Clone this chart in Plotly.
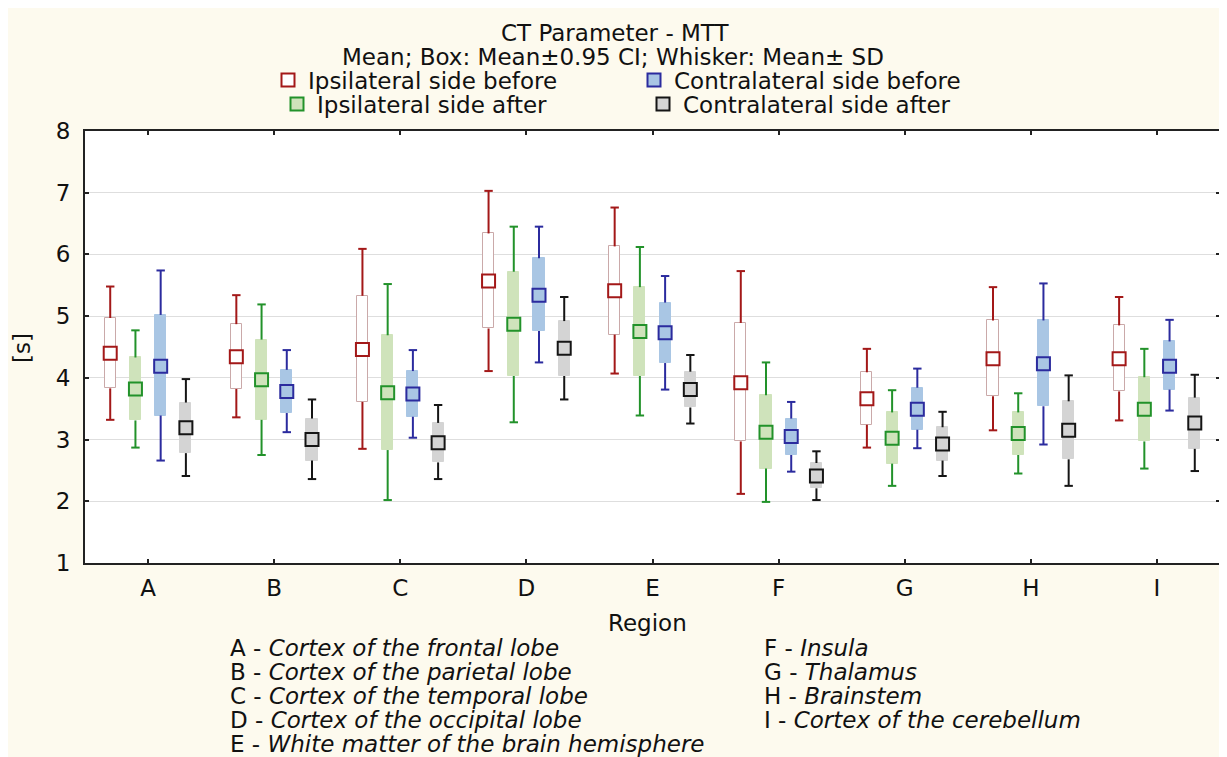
import plotly.graph_objects as go

# ---------------- data ----------------
regions = ["A", "B", "C", "D", "E", "F", "G", "H", "I"]
region_names = [
    "Cortex of the frontal lobe",
    "Cortex of the parietal lobe",
    "Cortex of the temporal lobe",
    "Cortex of the occipital lobe",
    "White matter of the brain hemisphere",
    "Insula",
    "Thalamus",
    "Brainstem",
    "Cortex of the cerebellum",
]
series_names = ["Ipsilateral side before", "Ipsilateral side after",
                "Contralateral side before", "Contralateral side after"]

# Ipsilateral side before
ipsi_before_mean = [4.40, 4.34, 4.46, 5.57, 5.41, 3.92, 3.66, 4.31, 4.31]
ipsi_before_ci_hi = [4.97, 4.87, 5.33, 6.34, 6.13, 4.89, 4.09, 4.93, 4.85]
ipsi_before_ci_lo = [3.83, 3.82, 3.61, 4.80, 4.70, 2.97, 3.24, 3.70, 3.78]
ipsi_before_sd_hi = [5.48, 5.34, 6.09, 7.03, 6.76, 5.73, 4.47, 5.47, 5.31]
ipsi_before_sd_lo = [3.32, 3.36, 2.85, 4.11, 4.07, 2.12, 2.87, 3.15, 3.31]

# Ipsilateral side after
ipsi_after_mean = [3.82, 3.97, 3.76, 4.87, 4.75, 3.12, 3.02, 3.10, 3.49]
ipsi_after_ci_hi = [4.33, 4.62, 4.69, 5.72, 5.47, 3.72, 3.44, 3.44, 4.01]
ipsi_after_ci_lo = [3.31, 3.32, 2.83, 4.03, 4.03, 2.53, 2.61, 2.75, 2.97]
ipsi_after_sd_hi = [4.77, 5.19, 5.52, 6.45, 6.12, 4.25, 3.80, 3.75, 4.47]
ipsi_after_sd_lo = [2.87, 2.75, 2.02, 3.28, 3.39, 1.99, 2.25, 2.45, 2.53]

# Contralateral side before
contra_before_mean = [4.19, 3.78, 3.74, 5.34, 4.73, 3.05, 3.49, 4.23, 4.19]
contra_before_ci_hi = [5.02, 4.13, 4.11, 5.94, 5.22, 3.34, 3.84, 4.93, 4.59]
contra_before_ci_lo = [3.39, 3.43, 3.37, 4.76, 4.24, 2.75, 3.16, 3.54, 3.81]
contra_before_sd_hi = [5.74, 4.45, 4.45, 6.45, 5.65, 3.61, 4.15, 5.53, 4.94]
contra_before_sd_lo = [2.66, 3.12, 3.03, 4.25, 3.81, 2.48, 2.86, 2.92, 3.47]

# Contralateral side after
contra_after_mean = [3.19, 3.00, 2.95, 4.48, 3.81, 2.41, 2.93, 3.15, 3.27]
contra_after_ci_hi = [3.60, 3.34, 3.27, 4.92, 4.10, 2.62, 3.20, 3.62, 3.68]
contra_after_ci_lo = [2.78, 2.66, 2.63, 4.03, 3.52, 2.21, 2.66, 2.68, 2.85]
contra_after_sd_hi = [3.98, 3.65, 3.56, 5.31, 4.37, 2.81, 3.45, 4.04, 4.05]
contra_after_sd_lo = [2.41, 2.36, 2.36, 3.65, 3.26, 2.02, 2.41, 2.25, 2.49]

y_ticks = [1, 2, 3, 4, 5, 6, 7, 8]

# ---------------- styling ----------------
FONT = "DejaVu Sans, Liberation Sans, Arial, sans-serif"
FS = 23
TXT = "#111111"
W, H = 1227, 757
BODY = 8                      # page offset of the figure (body margin)
PL, PR, PT, PB = 85, 1220, 131, 563   # plot area in page pixels
ML, MT = PL - BODY, PT - BODY
MR, MB = W - (PR - BODY), H - (PB - BODY)
PW, PH = PR - PL, PB - PT


def px_x(p):
    return (p - PL) / PW


def px_y(p):
    return (PB - p) / PH


series = [
    dict(name=series_names[0], mean=ipsi_before_mean, ci_hi=ipsi_before_ci_hi, ci_lo=ipsi_before_ci_lo,
         sd_hi=ipsi_before_sd_hi, sd_lo=ipsi_before_sd_lo, offset=-0.30,
         line="#a31818", fill="#ffffff", outline="#caa9a9", legend="legend"),
    dict(name=series_names[1], mean=ipsi_after_mean, ci_hi=ipsi_after_ci_hi, ci_lo=ipsi_after_ci_lo,
         sd_hi=ipsi_after_sd_hi, sd_lo=ipsi_after_sd_lo, offset=-0.10,
         line="#22922a", fill="#cfe3bb", outline="#cfe3bb", legend="legend2"),
    dict(name=series_names[2], mean=contra_before_mean, ci_hi=contra_before_ci_hi, ci_lo=contra_before_ci_lo,
         sd_hi=contra_before_sd_hi, sd_lo=contra_before_sd_lo, offset=0.10,
         line="#2b2b9e", fill="#a9c6e4", outline="#a9c6e4", legend="legend"),
    dict(name=series_names[3], mean=contra_after_mean, ci_hi=contra_after_ci_hi, ci_lo=contra_after_ci_lo,
         sd_hi=contra_after_sd_hi, sd_lo=contra_after_sd_lo, offset=0.30,
         line="#151515", fill="#d4d4d4", outline="#d4d4d4", legend="legend2"),
]

fig = go.Figure()
idx = list(range(len(regions)))

for s in series:
    xs = [i + s["offset"] for i in idx]
    # box: mean +/- 0.95 CI
    fig.add_trace(go.Bar(
        x=xs, y=[h - l for h, l in zip(s["ci_hi"], s["ci_lo"])], base=s["ci_lo"],
        width=0.088, marker=dict(color=s["fill"], line=dict(color=s["outline"], width=1)),
        showlegend=False, hoverinfo="skip"))
for s in series:
    xs = [i + s["offset"] for i in idx]
    wx, wy = [], []
    for x, bh, sh, bl, sl in zip(xs, s["ci_hi"], s["sd_hi"], s["ci_lo"], s["sd_lo"]):
        wx += [x, x, None, x, x, None]
        wy += [bh, sh, None, bl, sl, None]
    # whiskers: mean +/- SD
    fig.add_trace(go.Scatter(x=wx, y=wy, mode="lines", line=dict(color=s["line"], width=2),
                             showlegend=False, hoverinfo="skip"))
    fig.add_trace(go.Scatter(x=xs + xs, y=s["sd_hi"] + s["sd_lo"], mode="markers",
                             marker=dict(symbol="line-ew", size=6, line=dict(color=s["line"], width=2)),
                             showlegend=False, hoverinfo="skip"))
for s in series:
    xs = [i + s["offset"] for i in idx]
    fig.add_trace(go.Scatter(x=xs, y=s["mean"], mode="markers", name=s["name"], legend=s["legend"],
                             marker=dict(symbol="square", size=13, color=s["fill"],
                                         line=dict(color=s["line"], width=2))))

ann = []
ann.append(dict(text="CT Parameter - MTT", x=px_x(615), y=px_y(33)))
ann.append(dict(text="Mean; Box: Mean±0.95 CI; Whisker: Mean± SD", x=px_x(613), y=px_y(57)))
ann.append(dict(text="Region", x=px_x(647), y=px_y(623)))
for a in ann:
    a.update(xref="paper", yref="paper", showarrow=False, xanchor="center", yanchor="middle",
             font=dict(size=FS, color=TXT, family=FONT))
ann.append(dict(text="[s]", x=px_x(22), y=px_y(348), xref="paper", yref="paper", showarrow=False,
                textangle=-90, xanchor="center", yanchor="middle",
                font=dict(size=FS, color=TXT, family=FONT)))
for k, (r, n) in enumerate(zip(regions, region_names)):
    col = 0 if k < 5 else 1
    row = k if k < 5 else k - 5
    ann.append(dict(text=f"{r} - <i>{n}</i>", x=px_x(228 if col == 0 else 762), y=px_y(648 + 24 * row),
                    xref="paper", yref="paper", showarrow=False, xanchor="left", yanchor="middle",
                    font=dict(size=FS, color=TXT, family=FONT)))

leg_common = dict(orientation="h", xanchor="left", yanchor="middle",
                  entrywidth=321, entrywidthmode="pixels", bgcolor="rgba(0,0,0,0)",
                  font=dict(size=FS, family=FONT, color=TXT), itemclick=False)

fig.update_layout(
    width=W, height=H,
    margin=dict(l=ML, r=MR, t=MT, b=MB, pad=0),
    paper_bgcolor="#fdfaee", plot_bgcolor="#ffffff",
    barmode="overlay", bargap=0,
    font=dict(family=FONT, size=FS, color=TXT),
    annotations=ann,
    showlegend=True,
    legend=dict(x=px_x(268), y=px_y(80), **leg_common),
    legend2=dict(x=px_x(277), y=px_y(104), **leg_common),
    xaxis=dict(range=[-0.5, 8.5], tickmode="array", tickvals=idx, ticktext=regions,
               ticks="inside", ticklen=4, tickwidth=2, tickcolor="#222", mirror="ticks",
               showline=True, linecolor="#222", linewidth=2, showgrid=False, zeroline=False,
               ticklabelstandoff=3,
               tickfont=dict(size=FS, family=FONT, color=TXT)),
    yaxis=dict(range=[1, 8], tickmode="array", tickvals=y_ticks,
               ticks="inside", ticklen=4, tickwidth=2, tickcolor="#222", mirror="ticks",
               showline=True, linecolor="#222", linewidth=2, showgrid=True, gridcolor="#dedede",
               gridwidth=1, zeroline=False, ticklabelstandoff=8,
               tickfont=dict(size=FS, family=FONT, color=TXT)),
)

fig.write_html("out.html")
